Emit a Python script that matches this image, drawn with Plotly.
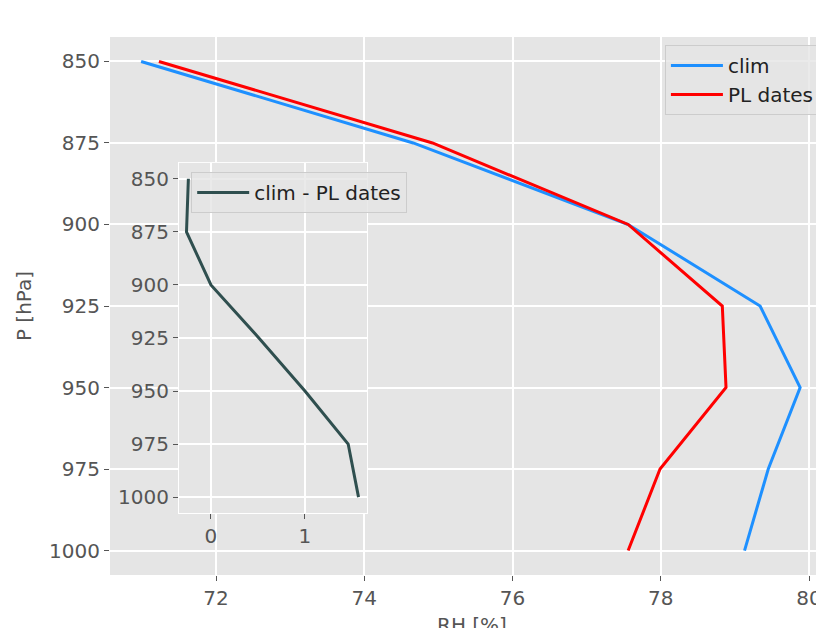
import plotly.graph_objects as go

pressure = [850, 875, 900, 925, 950, 975, 1000]
rh_clim = [70.99, 74.66, 77.56, 79.34, 79.88, 79.45, 79.13]
rh_pl = [71.23, 74.92, 77.56, 78.83, 78.88, 77.99, 77.56]
rh_diff = [c - p for c, p in zip(rh_clim, rh_pl)]

x_ticks = [72, 74, 76, 78, 80]
p_ticks = [850, 875, 900, 925, 950, 975, 1000]
inset_x_ticks = [0, 1]

BG = "#E5E5E5"
TXT = "#555555"
FONT = "DejaVu Sans"

fig = go.Figure()
fig.add_trace(go.Scatter(x=rh_clim, y=pressure, mode="lines", name="clim",
                         line=dict(color="#1E90FF", width=3), legend="legend"))
fig.add_trace(go.Scatter(x=rh_pl, y=pressure, mode="lines", name="PL dates",
                         line=dict(color="#FF0000", width=3), legend="legend"))
fig.add_trace(go.Scatter(x=rh_diff, y=pressure, mode="lines", name="clim - PL dates",
                         line=dict(color="#2F4F4F", width=3), xaxis="x2", yaxis="y2",
                         legend="legend2"))

ix0, ix1 = 0.0977, 0.364
iy0, iy1 = 0.1152, 0.766

axis_common = dict(showgrid=True, gridcolor="white", gridwidth=1.5, zeroline=False,
                   ticks="outside", ticklen=5, tickwidth=1.2, tickcolor=TXT,
                   tickfont=dict(family=FONT, size=20, color=TXT), showline=False,
                   ticklabeloverflow="allow")

legend_common = dict(xanchor="left", yanchor="top", itemwidth=52,
                     bgcolor="rgba(229,229,229,0.8)", bordercolor="#CCCCCC", borderwidth=1,
                     font=dict(family=FONT, size=20, color="#222222"))

fig.update_layout(
    width=816, height=628,
    margin=dict(l=110, r=0, t=37, b=53, autoexpand=False),
    paper_bgcolor="white", plot_bgcolor=BG,
    font=dict(family=FONT, color=TXT),
    xaxis=dict(range=[70.570, 80.094], tickvals=x_ticks, domain=[0, 1],
               automargin=False, **axis_common),
    yaxis=dict(range=[1007.5, 842.5], tickvals=p_ticks, domain=[0, 1],
               title=dict(text="P [hPa]", font=dict(size=20, color=TXT), standoff=12),
               automargin=False, **axis_common),
    xaxis2=dict(range=[-0.34, 1.66], tickvals=inset_x_ticks, domain=[ix0, ix1],
                anchor="y2", automargin=False, **axis_common),
    yaxis2=dict(range=[1007.5, 842.5], tickvals=p_ticks, domain=[iy0, iy1],
                anchor="x2", automargin=False, **axis_common),
    legend=dict(x=0.786, y=0.985, **legend_common),
    legend2=dict(x=0.115, y=0.749, **legend_common),
    showlegend=True,
)

# x-axis title (partly below the visible page, as in the reference)
fig.add_annotation(text="RH [%]", xref="paper", yref="paper", x=0.513, y=-0.066,
                   xanchor="center", yanchor="top", showarrow=False,
                   font=dict(family=FONT, size=20, color=TXT))

# inset background that hides the main grid behind it
fig.add_shape(type="rect", xref="x domain", yref="y domain",
              x0=ix0, x1=ix1, y0=iy0, y1=iy1,
              fillcolor=BG, line=dict(color="white", width=2), layer="below")

fig.write_html("out.html", config={"displayModeBar": False},
               post_script="document.body.style.margin='0';document.body.style.overflow='hidden';")
